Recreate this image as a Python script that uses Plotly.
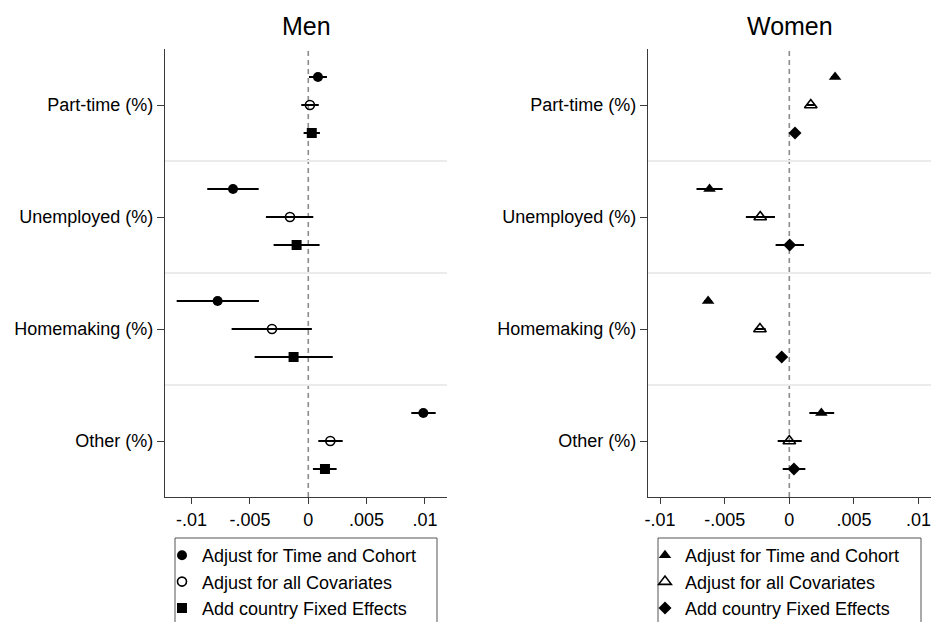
import plotly.graph_objects as go

# ---------------- data ----------------
categories = ["Part-time (%)", "Unemployed (%)", "Homemaking (%)", "Other (%)"]
series_names = ["Adjust for Time and Cohort", "Adjust for all Covariates", "Add country Fixed Effects"]

x_tickvals = [-0.01, -0.005, 0, 0.005, 0.01]
x_ticktext = ["-.01", "-.005", "0", ".005", ".01"]

# Men
men_tc_est = [0.00083, -0.00645, -0.00777, 0.00986]
men_tc_lo = [0.00006, -0.00866, -0.01128, 0.00883]
men_tc_hi = [0.00160, -0.00425, -0.00423, 0.01092]

men_all_est = [0.00014, -0.00157, -0.00311, 0.00189]
men_all_lo = [-0.00060, -0.00363, -0.00657, 0.00086]
men_all_hi = [0.00090, 0.00043, 0.00031, 0.00295]

men_fe_est = [0.00030, -0.00100, -0.00126, 0.00143]
men_fe_lo = [-0.00040, -0.00297, -0.00460, 0.00040]
men_fe_hi = [0.00100, 0.00097, 0.00210, 0.00243]

# Women
wom_tc_est = [0.00354, -0.00617, -0.00628, 0.00248]
wom_tc_lo = [0.00325, -0.00718, -0.00658, 0.00155]
wom_tc_hi = [0.00383, -0.00516, -0.00598, 0.00347]

wom_all_est = [0.00166, -0.00225, -0.00227, 0.00000]
wom_all_lo = [0.00136, -0.00336, -0.00266, -0.00090]
wom_all_hi = [0.00196, -0.00111, -0.00183, 0.00096]

wom_fe_est = [0.00044, 0.00003, -0.00059, 0.00036]
wom_fe_lo = [0.00014, -0.00106, -0.00089, -0.00051]
wom_fe_hi = [0.00074, 0.00114, -0.00029, 0.00124]

# ---------------- layout helpers ----------------
W, H = 938, 622
FONT = "Arial, 'Liberation Sans', Helvetica, sans-serif"
offsets = [-0.25, 0.0, 0.25]
cat_pos = list(range(1, len(categories) + 1))

men_series = [(men_tc_est, men_tc_lo, men_tc_hi),
              (men_all_est, men_all_lo, men_all_hi),
              (men_fe_est, men_fe_lo, men_fe_hi)]
wom_series = [(wom_tc_est, wom_tc_lo, wom_tc_hi),
              (wom_all_est, wom_all_lo, wom_all_hi),
              (wom_fe_est, wom_fe_lo, wom_fe_hi)]

men_markers = [dict(symbol="circle", size=10, color="black", line=dict(width=0)),
               dict(symbol="circle-open", size=9, color="black", line=dict(width=1.6, color="black")),
               dict(symbol="square", size=10, color="black", line=dict(width=0))]
wom_markers = [dict(symbol="triangle-up", size=11, color="black", line=dict(width=0)),
               dict(symbol="triangle-up-open", size=11, color="black", line=dict(width=1.6, color="black")),
               dict(symbol="diamond", size=10, color="black", line=dict(width=0))]

fig = go.Figure()


def add_panel(series, markers, xa, ya, legend_name):
    for i, ((est, lo, hi), mk) in enumerate(zip(series, markers)):
        ys = [p + offsets[i] for p in cat_pos]
        fig.add_trace(go.Scatter(
            x=est, y=ys, mode="markers", name=series_names[i],
            marker=mk,
            error_x=dict(type="data", symmetric=False,
                         array=[h - e for h, e in zip(hi, est)],
                         arrayminus=[e - l for e, l in zip(est, lo)],
                         width=0, thickness=2, color="black"),
            xaxis=xa, yaxis=ya, legend=legend_name, showlegend=True,
        ))


add_panel(men_series, men_markers, "x", "y", "legend")
add_panel(wom_series, wom_markers, "x2", "y2", "legend2")

# pixel geometry
left_dom = [165 / W, 447 / W]
right_dom = [648 / W, 931 / W]
y_dom = [(H - 497) / H, (H - 49) / H]

axis_line = dict(showline=True, linecolor="#3a3a3a", linewidth=1.3,
                 ticks="outside", tickcolor="#3a3a3a", tickwidth=1.3,
                 tickfont=dict(size=18, color="black", family=FONT))

xcommon = dict(tickvals=x_tickvals, ticktext=x_ticktext, showgrid=False,
               zeroline=False, ticklen=6, automargin=False, **axis_line)
ycommon = dict(tickvals=cat_pos, ticktext=categories, range=[4.5, 0.5],
               showgrid=False, zeroline=False, ticklen=7, automargin=False,
               minor=dict(tickvals=[1.5, 2.5, 3.5], showgrid=True,
                          gridcolor="#ebebeb", gridwidth=1.5, ticklen=0),
               **axis_line)

legend_common = dict(yanchor="top", y=(H - 537) / H, xanchor="left",
                     borderwidth=0, bgcolor="rgba(0,0,0,0)",
                     font=dict(size=18, family=FONT, color="black"),
                     traceorder="normal")

fig.update_layout(
    width=W, height=H,
    margin=dict(l=0, r=0, t=0, b=0, autoexpand=False),
    paper_bgcolor="white", plot_bgcolor="white",
    font=dict(family=FONT, color="black", size=18),
    xaxis=dict(domain=left_dom, range=[-0.01228, 0.01189], anchor="y", **xcommon),
    yaxis=dict(domain=y_dom, anchor="x", **ycommon),
    xaxis2=dict(domain=right_dom, range=[-0.01093, 0.01096], anchor="y2", **xcommon),
    yaxis2=dict(domain=y_dom, anchor="x2", **ycommon),
    legend=dict(x=162 / W, **legend_common),
    legend2=dict(x=645 / W, **legend_common),
    showlegend=True,
)

# legend frames
for bx0, bx1 in [(175, 437), (658, 921)]:
    fig.add_shape(type="rect", xref="paper", yref="paper",
                  x0=bx0 / W, x1=bx1 / W, y0=(H - 640) / H, y1=(H - 538) / H,
                  line=dict(color="#555555", width=1), fillcolor="rgba(0,0,0,0)")

# dashed zero reference line in each panel
for xr, yr in [("x", "y domain"), ("x2", "y2 domain")]:
    fig.add_shape(type="line", xref=xr, yref=yr, x0=0, x1=0, y0=0, y1=1,
                  line=dict(color="#8c8c8c", width=1.6, dash="5px,4px"), layer="below")

# panel titles
for title, xc in [("Men", 306), ("Women", 789.5)]:
    fig.add_annotation(text=title, xref="paper", yref="paper", x=xc / W, y=(H - 26) / H,
                       xanchor="center", yanchor="middle", showarrow=False,
                       font=dict(size=25, family=FONT, color="black"))

fig.write_html("out.html", config={"displayModeBar": False},
               post_script="document.body.style.margin='0';")
